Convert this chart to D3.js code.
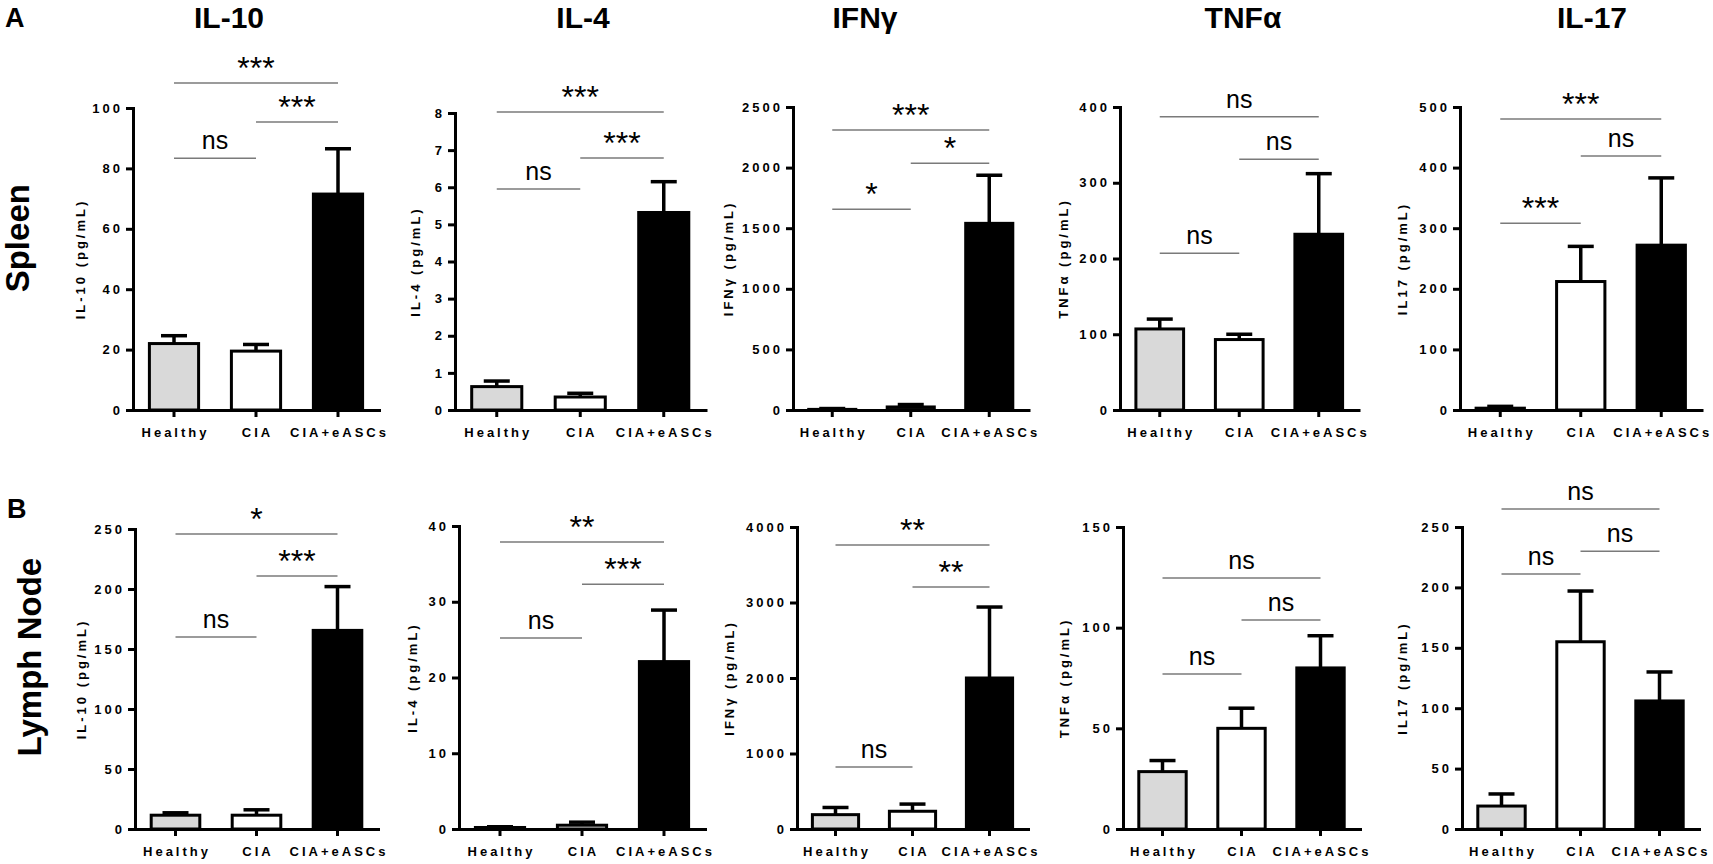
<!DOCTYPE html>
<html>
<head>
<meta charset="utf-8">
<script src="https://cdn.jsdelivr.net/npm/d3@7"></script>
<style>
  body { margin: 0; background: #fff; }
  text { font-family: Helvetica, Arial, "Liberation Sans", sans-serif; }
</style>
</head>
<body>
<div id="chart"></div>
<script>
// groups and panels
const groups = ["Healthy", "CIA", "CIA+eASCs"];
const cytokines = ["IL-10", "IL-4", "IFNγ", "TNFα", "IL-17"];
const yTitles = ["IL-10 (pg/mL)", "IL-4 (pg/mL)", "IFNγ (pg/mL)", "TNFα (pg/mL)", "IL17 (pg/mL)"];
const tissues = ["Spleen", "Lymph Node"];
const rowLetters = ["A", "B"];

// mean values (pg/mL), one row per cytokine: Healthy, CIA, CIA+eASCs
const spleenMean = [
  [22, 19.5, 71.5],
  [0.63, 0.35, 5.32],
  [5, 25, 1540],
  [107, 93, 232],
  [3, 212, 272]
];
const spleenSem = [
  [2.6, 2.2, 15],
  [0.15, 0.10, 0.83],
  [7, 20, 397],
  [13, 7, 80],
  [3, 58, 111]
];
const lymphMean = [
  [11.5, 11.5, 165.5],
  [0.2, 0.5, 22.1],
  [190, 235, 2000],
  [28.5, 50, 80],
  [19, 155, 106]
];
const lymphSem = [
  [2, 4.5, 36.5],
  [0.1, 0.4, 6.8],
  [95, 95, 940],
  [5.5, 10, 16],
  [10, 42, 24]
];

// y tick labels
const spleenTicks = [
  [0, 20, 40, 60, 80, 100],
  [0, 1, 2, 3, 4, 5, 6, 7, 8],
  [0, 500, 1000, 1500, 2000, 2500],
  [0, 100, 200, 300, 400],
  [0, 100, 200, 300, 400, 500]
];
const lymphTicks = [
  [0, 50, 100, 150, 200, 250],
  [0, 10, 20, 30, 40],
  [0, 1000, 2000, 3000, 4000],
  [0, 50, 100, 150],
  [0, 50, 100, 150, 200, 250]
];

// significance brackets: pairs of groups, label and bracket level (data units)
const sigPairs = [[0, 2], [1, 2], [0, 1]];
const spleenSig = [
  [["***", 108.3], ["***", 95.4], ["ns", 83.4]],
  [["***", 8.03], ["***", 6.79], ["ns", 5.95]],
  [["***", 2310], ["*", 2036], ["*", 1656]],
  [["ns", 387], ["ns", 331], ["ns", 207]],
  [["***", 480], ["ns", 419], ["***", 308]]
];
const lymphSig = [
  [["*", 245.8], ["***", 210.8], ["ns", 160]],
  [["**", 37.9], ["***", 32.3], ["ns", 25.2]],
  [["**", 3762], ["**", 3205], ["ns", 821]],
  [["ns", 124.7], ["ns", 103.8], ["ns", 77]],
  [["ns", 265], ["ns", 230], ["ns", 211]]
];

const barFill = ["#d9d9d9", "#ffffff", "#000000"];

// layout
const width = 1713, height = 864;
const rows = [
  { mean: spleenMean, sem: spleenSem, ticks: spleenTicks, sig: spleenSig,
    base: 410, tops: [108, 113, 107, 107, 107],
    axisX: [133, 455, 793, 1120, 1460], step: [82, 83.5, 78.5, 79.5, 80.5],
    labelDx: [-53, -40, -65, -57, -58],
    letterPos: [5, 27], tissueX: 29 },
  { mean: lymphMean, sem: lymphSem, ticks: lymphTicks, sig: lymphSig,
    base: 829, tops: [529, 526, 527, 527, 527],
    axisX: [135, 459, 797, 1123, 1462], step: [81, 82, 77, 79, 79],
    labelDx: [-54, -47, -68, -59, -60],
    letterPos: [7, 518], tissueX: 41 }
];
const titleX = [229, 583, 865, 1243, 1592];

const svg = d3.select("#chart").append("svg")
    .attr("width", width)
    .attr("height", height);

// column titles
svg.selectAll(".title")
    .data(cytokines)
    .join("text")
    .attr("class", "title")
    .attr("x", (d, i) => titleX[i])
    .attr("y", 28)
    .attr("text-anchor", "middle")
    .style("font-size", "30px")
    .style("font-weight", "bold")
    .text(d => d);

rows.forEach((row, r) => {
    // row letter and tissue name
    svg.append("text")
        .attr("x", row.letterPos[0])
        .attr("y", row.letterPos[1])
        .style("font-size", "27px")
        .style("font-weight", "bold")
        .text(rowLetters[r]);

    const midRow = (row.base + d3.mean(row.tops)) / 2;
    svg.append("text")
        .attr("transform", `translate(${row.tissueX},${midRow - 21}) rotate(-90)`)
        .attr("text-anchor", "middle")
        .style("font-size", "33px")
        .style("font-weight", "bold")
        .text(tissues[r]);

    cytokines.forEach((c, i) => drawPanel(row, r, i));
});

function drawPanel(row, r, i) {
    const ax = row.axisX[i], step = row.step[i];
    const ticks = row.ticks[i];
    const g = svg.append("g");

    const x = d3.scaleBand()
        .domain(groups)
        .range([ax, ax + 3 * step])
        .paddingInner(0.4)
        .paddingOuter(0.2);
    const y = d3.scaleLinear()
        .domain([0, ticks[ticks.length - 1]])
        .range([row.base, row.tops[i]]);

    const data = groups.map((name, k) => ({
        name: name, mean: row.mean[i][k], sem: row.sem[i][k], fill: barFill[k]
    }));
    const cx = d => x(d) + x.bandwidth() / 2;

    // error bars (upper only)
    g.selectAll(".err")
        .data(data)
        .join("line")
        .attr("x1", d => cx(d.name)).attr("x2", d => cx(d.name))
        .attr("y1", d => y(d.mean)).attr("y2", d => y(d.mean + d.sem))
        .attr("stroke", "#000").attr("stroke-width", 3.5);
    g.selectAll(".cap")
        .data(data)
        .join("line")
        .attr("x1", d => cx(d.name) - 13).attr("x2", d => cx(d.name) + 13)
        .attr("y1", d => y(d.mean + d.sem)).attr("y2", d => y(d.mean + d.sem))
        .attr("stroke", "#000").attr("stroke-width", 3.5);

    // bars
    g.selectAll(".bar")
        .data(data)
        .join("rect")
        .attr("x", d => x(d.name))
        .attr("width", x.bandwidth())
        .attr("y", d => y(d.mean))
        .attr("height", d => y(0) - y(d.mean))
        .attr("fill", d => d.fill)
        .attr("stroke", "#000")
        .attr("stroke-width", 3);

    // axes
    const yAxis = g.append("g")
        .attr("transform", `translate(${ax},0)`)
        .call(d3.axisLeft(y).tickValues(ticks).tickFormat(d3.format("d"))
            .tickSize(7).tickSizeOuter(0).tickPadding(3));
    const xAxis = g.append("g")
        .attr("transform", `translate(0,${row.base})`)
        .call(d3.axisBottom(x).tickSize(7).tickSizeOuter(0).tickPadding(11));

    [yAxis, xAxis].forEach(a => {
        a.select(".domain").attr("stroke", "#000").attr("stroke-width", 3)
            .attr("stroke-linecap", "square");
        a.selectAll(".tick line").attr("stroke", "#000").attr("stroke-width", 3);
        a.selectAll("text")
            .attr("fill", "#000")
            .style("font-size", "13px")
            .style("font-weight", "bold")
            .style("letter-spacing", "3px")
            .style("font-family", "Helvetica, Arial, 'Liberation Sans', sans-serif");
    });
    xAxis.selectAll("text").attr("dx", "1.5px");

    // y axis title
    g.append("text")
        .attr("transform", `translate(${ax + row.labelDx[i]},${(row.base + row.tops[i]) / 2}) rotate(-90)`)
        .attr("text-anchor", "middle")
        .attr("dominant-baseline", "central")
        .style("font-size", "13px")
        .style("font-weight", "bold")
        .style("letter-spacing", "3px")
        .text(yTitles[i]);

    // significance brackets
    const sig = row.sig[i].map((s, k) => ({
        label: s[0], level: s[1], a: groups[sigPairs[k][0]], b: groups[sigPairs[k][1]]
    }));
    g.selectAll(".sigline")
        .data(sig)
        .join("line")
        .attr("x1", d => cx(d.a)).attr("x2", d => cx(d.b))
        .attr("y1", d => y(d.level)).attr("y2", d => y(d.level))
        .attr("stroke", "#7a7a7a").attr("stroke-width", 1.5);
    g.selectAll(".siglabel")
        .data(sig)
        .join("text")
        .attr("x", d => (cx(d.a) + cx(d.b)) / 2)
        .attr("y", d => y(d.level) - (d.label === "ns" ? 9 : 4))
        .attr("text-anchor", "middle")
        .style("font-size", d => d.label === "ns" ? "25px" : "32px")
        .text(d => d.label);
}
</script>
</body>
</html>
